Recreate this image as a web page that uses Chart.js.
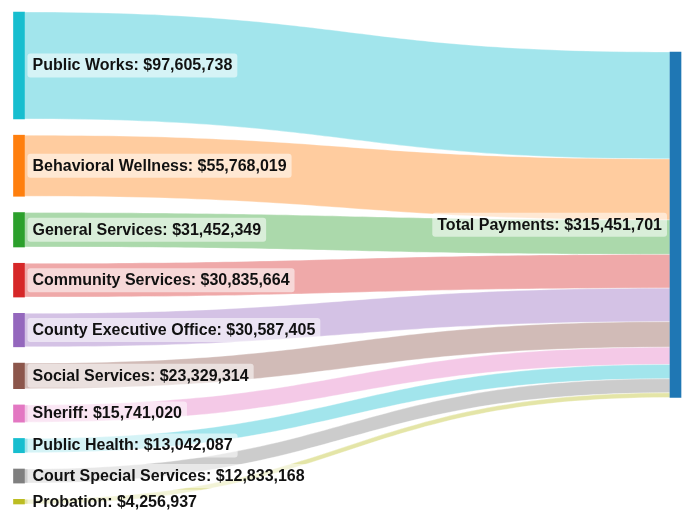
<!DOCTYPE html>
<html>
<head>
<meta charset="utf-8">
<script src="https://cdn.jsdelivr.net/npm/chart.js@4.4.1/dist/chart.umd.min.js"></script>
<style>
  html, body { margin: 0; padding: 0; background: #fff; }
  #wrap { width: 686px; height: 512px; }
</style>
</head>
<body>
<div id="wrap"><canvas id="sankey"></canvas></div>
<script>
// source nodes (departments) and what each one paid into the total
const departments = [
    'Public Works', 'Behavioral Wellness', 'General Services', 'Community Services',
    'County Executive Office', 'Social Services', 'Sheriff', 'Public Health',
    'Court Special Services', 'Probation'
];
const payments = [
    97605738, 55768019, 31452349, 30835664, 30587405,
    23329314, 15741020, 13042087, 12833168, 4256937
];
const nodeColors = [
    '#17becf', '#ff7f0e', '#2ca02c', '#d62728', '#9467bd',
    '#8c564b', '#e377c2', '#17becf', '#7f7f7f', '#bcbd22'
];
const targetName = 'Total Payments';
const targetColor = '#1f77b4';

// layout, in the same dollar units as the y scale
const nodeGap = 14.86e6;
const targetOffset = 36.5e6;
const nodeWidth = 11;

const total = payments.reduce((a, b) => a + b, 0);
const span = total + nodeGap * (payments.length - 1);

function hexToRgba(hex, a) {
    const n = parseInt(hex.slice(1), 16);
    return `rgba(${(n >> 16) & 255}, ${(n >> 8) & 255}, ${n & 255}, ${a})`;
}

function money(v) {
    return '$' + v.toLocaleString('en-US');
}

// stacked positions of each department on both sides
const leftTops = [];
const rightTops = [];
let acc = 0;
payments.forEach((p, i) => {
    leftTops.push(acc + i * nodeGap);
    rightTops.push(targetOffset + acc);
    acc += p;
});

const datasets = departments.map((name, i) => ({
    label: name,
    data: [[leftTops[i], leftTops[i] + payments[i]], null],
    backgroundColor: nodeColors[i]
}));
datasets.push({
    label: targetName,
    data: [null, [targetOffset, targetOffset + total]],
    backgroundColor: targetColor
});

const sankeyPlugin = {
    id: 'sankeyLinks',
    beforeDatasetsDraw(chart) {
        const ctx = chart.ctx;
        const xs = chart.scales.x;
        const ys = chart.scales.y;
        const x0 = xs.getPixelForValue(0) + nodeWidth / 2;
        const x1 = xs.getPixelForValue(1) - nodeWidth / 2;
        const xm = (x0 + x1) / 2;
        ctx.save();
        payments.forEach((p, i) => {
            const l0 = ys.getPixelForValue(leftTops[i]);
            const l1 = ys.getPixelForValue(leftTops[i] + p);
            const r0 = ys.getPixelForValue(rightTops[i]);
            const r1 = ys.getPixelForValue(rightTops[i] + p);
            ctx.beginPath();
            ctx.moveTo(x0, l0);
            ctx.bezierCurveTo(xm, l0, xm, r0, x1, r0);
            ctx.lineTo(x1, r1);
            ctx.bezierCurveTo(xm, r1, xm, l1, x0, l1);
            ctx.closePath();
            ctx.fillStyle = hexToRgba(nodeColors[i], 0.4);
            ctx.fill();
            ctx.strokeStyle = 'rgba(255,255,255,0.7)';
            ctx.lineWidth = 0.5;
            ctx.stroke();
        });
        ctx.restore();
    },
    afterDatasetsDraw(chart) {
        const ctx = chart.ctx;
        const xs = chart.scales.x;
        const ys = chart.scales.y;
        const x0 = xs.getPixelForValue(0) + nodeWidth / 2;
        const x1 = xs.getPixelForValue(1) - nodeWidth / 2;
        ctx.save();
        ctx.font = 'bold 16px "Liberation Sans", Arial, sans-serif';
        ctx.textBaseline = 'middle';

        function label(text, yMid, left, alignRight) {
            const w = ctx.measureText(text).width + 10;
            const bx = alignRight ? left - w : left;
            ctx.fillStyle = 'rgba(255,255,255,0.55)';
            ctx.beginPath();
            ctx.roundRect(bx, yMid - 12, w, 24, 3);
            ctx.fill();
            ctx.fillStyle = '#111';
            ctx.textAlign = 'left';
            ctx.fillText(text, bx + 5, yMid + 0.5);
        }

        departments.forEach((name, i) => {
            const yMid = ys.getPixelForValue(leftTops[i] + payments[i] / 2);
            label(`${name}: ${money(payments[i])}`, yMid, x0 + 3, false);
        });
        const tMid = ys.getPixelForValue(targetOffset + total / 2);
        label(`${targetName}: ${money(total)}`, tMid, x1 - 3, true);
        ctx.restore();
    }
};

new Chart(document.getElementById('sankey'), {
    type: 'bar',
    data: {
        labels: ['Departments', targetName],
        datasets: datasets
    },
    options: {
        responsive: true,
        maintainAspectRatio: false,
        animation: false,
        layout: {
            padding: { top: 12, bottom: 8, left: 19, right: 10.5 }
        },
        datasets: {
            bar: {
                grouped: false,
                barThickness: nodeWidth,
                borderWidth: 0,
                clip: false
            }
        },
        plugins: {
            legend: { display: false },
            tooltip: { enabled: false }
        },
        scales: {
            x: {
                type: 'category',
                offset: false,
                display: false
            },
            y: {
                min: 0,
                max: span,
                reverse: true,
                display: false
            }
        }
    },
    plugins: [sankeyPlugin]
});
</script>
</body>
</html>
